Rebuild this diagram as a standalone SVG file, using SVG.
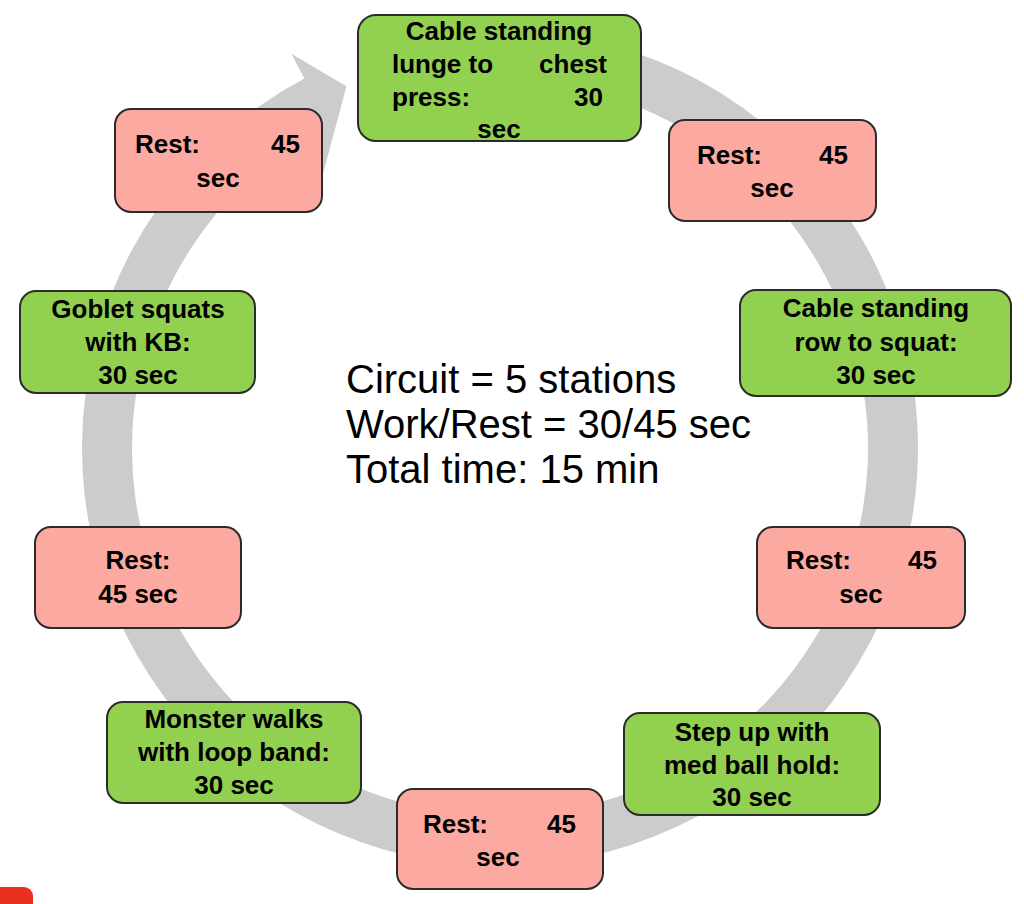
<svg xmlns="http://www.w3.org/2000/svg" width="1024" height="904" viewBox="0 0 1024 904">
<style>
.g{fill:#92d050;stroke:#2b2b2b;stroke-width:2}
.r{fill:#fcaaa1;stroke:#2b2b2b;stroke-width:2}
.t{font-family:"Liberation Sans",Arial,sans-serif;font-weight:bold;font-size:26px;fill:#000}
.c{text-anchor:middle}
.e{text-anchor:end}
.m{font-family:"Liberation Sans",Arial,sans-serif;font-size:40px;fill:#000}
</style>
<rect width="1024" height="904" fill="#fff"/>
<g id="connectors">
<path fill="#cccccc" d="M536.4,31.6 A418,418 0 1 1 304.4,78.6 L291.3,53.8 L346.5,86.2 L320,185 L316,129.3 A368,368 0 1 0 532.1,81.4 Z"/>
</g>
<g id="n1"><rect class="g" x="358" y="15" width="283" height="126" rx="18"/>
<text class="t c" x="499" y="40">Cable standing</text>
<text class="t" x="392" y="73">lunge to</text><text class="t e" x="607" y="73">chest</text>
<text class="t" x="392" y="106">press:</text><text class="t e" x="603" y="106">30</text>
<text class="t c" x="499" y="138">sec</text></g>
<g id="n2"><rect class="r" x="669" y="120" width="207" height="101" rx="16"/>
<text class="t" x="697" y="164">Rest:</text><text class="t e" x="848" y="164">45</text>
<text class="t c" x="772" y="197">sec</text></g>
<g id="n3"><rect class="g" x="740" y="290" width="271" height="106" rx="16"/>
<text class="t c" x="876" y="317">Cable standing</text>
<text class="t c" x="876" y="351">row to squat:</text>
<text class="t c" x="876" y="384">30 sec</text></g>
<g id="n4"><rect class="r" x="757" y="527" width="208" height="101" rx="16"/>
<text class="t" x="786" y="569">Rest:</text><text class="t e" x="937" y="569">45</text>
<text class="t c" x="861" y="603">sec</text></g>
<g id="n5"><rect class="g" x="624" y="713" width="256" height="102" rx="16"/>
<text class="t c" x="752" y="741">Step up with</text>
<text class="t c" x="752" y="774">med ball hold:</text>
<text class="t c" x="752" y="806">30 sec</text></g>
<g id="n6"><rect class="r" x="397" y="789" width="206" height="100" rx="16"/>
<text class="t" x="423" y="833">Rest:</text><text class="t e" x="576" y="833">45</text>
<text class="t c" x="498" y="866">sec</text></g>
<g id="n7"><rect class="g" x="107" y="702" width="254" height="101" rx="16"/>
<text class="t c" x="234" y="728">Monster walks</text>
<text class="t c" x="234" y="761">with loop band:</text>
<text class="t c" x="234" y="794">30 sec</text></g>
<g id="n8"><rect class="r" x="35" y="527" width="206" height="101" rx="16"/>
<text class="t c" x="138" y="569">Rest:</text>
<text class="t c" x="138" y="603">45 sec</text></g>
<g id="n9"><rect class="g" x="20" y="291" width="235" height="102" rx="16"/>
<text class="t c" x="138" y="318">Goblet squats</text>
<text class="t c" x="138" y="351">with KB:</text>
<text class="t c" x="138" y="384">30 sec</text></g>
<g id="n10"><rect class="r" x="115" y="109" width="207" height="103" rx="16"/>
<text class="t" x="135" y="153">Rest:</text><text class="t e" x="300" y="153">45</text>
<text class="t c" x="218" y="187">sec</text></g>
<g id="center">
<text class="m" x="346" y="393">Circuit = 5 stations</text>
<text class="m" x="346" y="438">Work/Rest = 30/45 sec</text>
<text class="m" x="346" y="483">Total time: 15 min</text>
</g>
<path d="M0,887 H24 A9,9 0 0 1 33,896 V904 H0 Z" fill="#e8321e"/>
</svg>
